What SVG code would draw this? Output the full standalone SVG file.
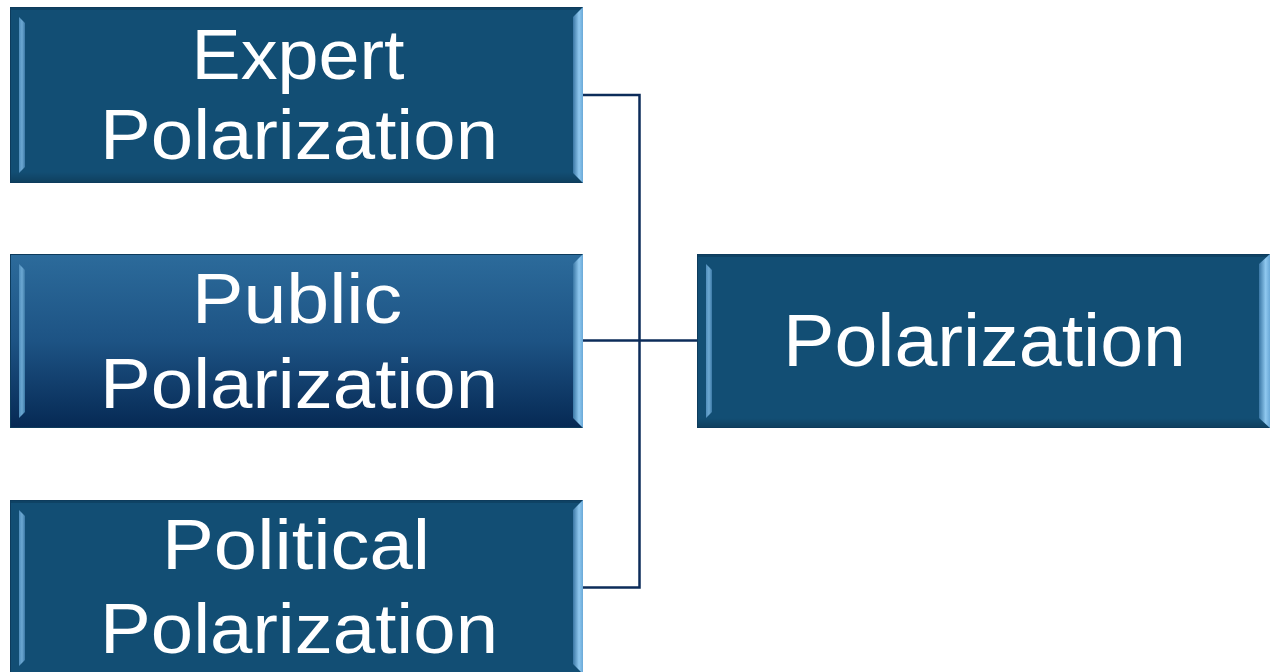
<svg xmlns="http://www.w3.org/2000/svg" width="1271" height="672" viewBox="0 0 1271 672">
  <defs>
    <linearGradient id="gradPublic" x1="0" y1="0" x2="0" y2="1">
      <stop offset="0" stop-color="#2c6b9b"/>
      <stop offset="0.5" stop-color="#1d5384"/>
      <stop offset="1" stop-color="#062954"/>
    </linearGradient>
    <linearGradient id="bevelRight" x1="0" y1="0" x2="1" y2="0">
      <stop offset="0" stop-color="#3a77a5"/>
      <stop offset="0.6" stop-color="#8fc8ef"/>
      <stop offset="1" stop-color="#6aa9d8"/>
    </linearGradient>
    <linearGradient id="bevelLeft" x1="0" y1="0" x2="1" y2="0">
      <stop offset="0" stop-color="#4f8dbb"/>
      <stop offset="0.5" stop-color="#6ca8d2"/>
      <stop offset="1" stop-color="#3c79a6"/>
    </linearGradient>
    <linearGradient id="bevelBottom" x1="0" y1="0" x2="0" y2="1">
      <stop offset="0" stop-color="#000" stop-opacity="0"/>
      <stop offset="1" stop-color="#000" stop-opacity="0.18"/>
    </linearGradient>
  </defs>
  <style>
    .box { fill: #124e74; stroke: #0d3b5c; stroke-width: 1; }
    .label { font-family: "Liberation Sans", Arial, sans-serif; font-size: 70px; fill: #ffffff; text-anchor: middle; }
    .big { font-size: 74px; }
    .link { fill: none; stroke: #0c2c5a; stroke-width: 2.5; }
    .topEdge { fill: #0c3a5a; opacity: 0.6; }
  </style>

  <!-- connectors -->
  <g id="connectors">
    <path class="link" d="M583 95 H639.5 V587.5 H583"/>
    <path class="link" d="M583 340.5 H697"/>
  </g>

  <!-- Expert Polarization -->
  <g id="node-expert">
    <rect class="box" x="10.5" y="7.5" width="572" height="175"/>
    <rect class="topEdge" x="11" y="8" width="571" height="2"/>
    <rect x="11" y="172" width="571" height="10" fill="url(#bevelBottom)"/>
    <polygon points="19,17 25,23 25,167 19,173" fill="url(#bevelLeft)"/>
    <polygon points="573,17 583,7 583,183 573,173" fill="url(#bevelRight)"/>
    <text class="label" x="298" y="79" textLength="213" lengthAdjust="spacingAndGlyphs">Expert</text>
    <text class="label" x="299" y="159" textLength="398" lengthAdjust="spacingAndGlyphs">Polarization</text>
  </g>

  <!-- Public Polarization -->
  <g id="node-public">
    <rect x="10.5" y="254.5" width="572" height="173" fill="url(#gradPublic)" stroke="#0d3b5c" stroke-width="1"/>
    <polygon points="19,264 25,270 25,412 19,418" fill="url(#bevelLeft)"/>
    <polygon points="573,264 583,254 583,428 573,418" fill="url(#bevelRight)"/>
    <text class="label" x="297" y="323" textLength="210" lengthAdjust="spacingAndGlyphs">Public</text>
    <text class="label" x="299" y="408" textLength="398" lengthAdjust="spacingAndGlyphs">Polarization</text>
  </g>

  <!-- Political Polarization -->
  <g id="node-political">
    <rect class="box" x="10.5" y="500.5" width="572" height="174"/>
    <rect class="topEdge" x="11" y="501" width="571" height="2"/>
    <polygon points="19,510 25,516 25,660 19,666" fill="url(#bevelLeft)"/>
    <polygon points="573,510 583,500 583,674 573,664" fill="url(#bevelRight)"/>
    <text class="label" x="296" y="569" textLength="268" lengthAdjust="spacingAndGlyphs">Political</text>
    <text class="label" x="299" y="653" textLength="398" lengthAdjust="spacingAndGlyphs">Polarization</text>
  </g>

  <!-- Polarization (result) -->
  <g id="node-polarization">
    <rect class="box" x="697.5" y="254.5" width="572" height="173"/>
    <rect class="topEdge" x="698" y="255" width="571" height="2"/>
    <rect x="698" y="418" width="571" height="9" fill="url(#bevelBottom)"/>
    <polygon points="706,264 712,270 712,412 706,418" fill="url(#bevelLeft)"/>
    <polygon points="1259,264 1270,254 1270,428 1259,418" fill="url(#bevelRight)"/>
    <text class="label big" x="984.5" y="366" textLength="403" lengthAdjust="spacingAndGlyphs">Polarization</text>
  </g>
</svg>
